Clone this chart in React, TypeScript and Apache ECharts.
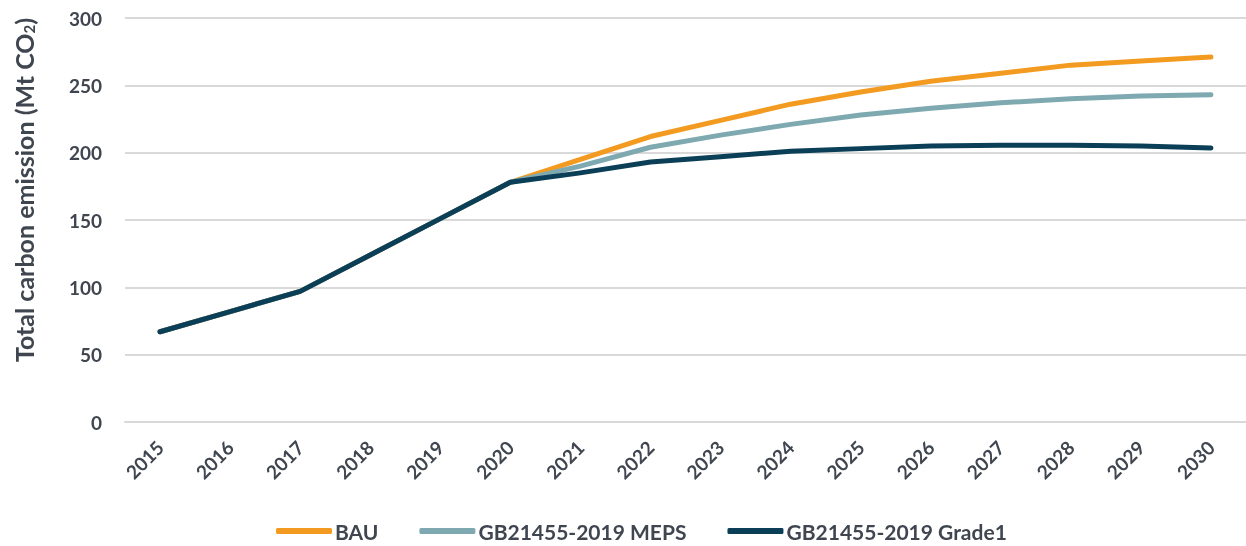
import React, { useEffect, useRef } from "react";
import * as echarts from "echarts";

const years = ["2015","2016","2017","2018","2019","2020","2021","2022","2023","2024","2025","2026","2027","2028","2029","2030"];
const bau = [67, 82, 97, 124, 151, 178, 195, 212, 224, 236, 245, 253, 259, 265, 268, 271];
const meps = [67, 82, 97, 124, 151, 178, 190, 204, 213, 221, 228, 233, 237, 240, 242, 243];
const grade1 = [67, 82, 97, 124, 151, 178, 185, 193, 197, 201, 203, 205, 205.5, 205.5, 205, 203.5];
const seriesNames = ["BAU", "GB21455-2019 MEPS", "GB21455-2019 Grade1"];
const colors = ["#F39A21", "#7FA9B1", "#0B3F57"];

const FONT = "Lato";
const TXT = "#3F4650";

export default function App() {
  const ref = useRef<HTMLDivElement>(null);
  useEffect(() => {
    const chart = echarts.init(ref.current!, null, { renderer: "svg" });
    const data = [bau, meps, grade1];
    chart.setOption({
      animation: false,
      grid: { left: 125, top: 18, width: 1128, height: 404 },
      legend: {
        left: 276,
        top: 519,
        padding: 0,
        itemWidth: 56,
        itemHeight: 6,
        itemGap: 41,
        icon: "roundRect",
        textStyle: { fontFamily: FONT, fontWeight: "bold", fontSize: 21, lineHeight: 24, color: TXT, padding: [0, 0, 0, -2] },
        data: seriesNames,
      },
      xAxis: {
        type: "category",
        data: years,
        boundaryGap: true,
        axisLine: { show: true, lineStyle: { color: "#D9D9D9", width: 2 } },
        axisTick: { show: false },
        axisLabel: { rotate: 45, margin: 22, fontFamily: FONT, fontWeight: "bold", fontSize: 19, color: TXT, interval: 0 },
      },
      yAxis: {
        type: "value",
        min: 0,
        max: 300,
        interval: 50,
        axisLine: { show: false },
        axisTick: { show: false },
        splitLine: { lineStyle: { color: "#D9D9D9", width: 2 } },
        axisLabel: { margin: 23, fontFamily: FONT, fontWeight: "bold", fontSize: 19, color: TXT },
      },
      graphic: [
        {
          type: "text",
          x: 9,
          y: 190,
          rotation: Math.PI / 2,
          style: {
            text: "{a|Total carbon emission (Mt CO}{b|2}{a|)}",
            align: "center",
            verticalAlign: "top",
            rich: {
              a: { fontFamily: FONT, fontWeight: "bold", fontSize: 25, lineHeight: 30, fill: TXT },
              b: { fontFamily: FONT, fontWeight: "bold", fontSize: 15, lineHeight: 30, fill: TXT, padding: [10, 0, 0, 0] },
            },
          },
        },
      ],
      series: seriesNames.map((n, i) => ({
        name: n,
        type: "line",
        data: data[i],
        symbol: "none",
        z: i + 2,
        lineStyle: { color: colors[i], width: 5, cap: "round", join: "round" },
        itemStyle: { color: colors[i] },
      })),
    });
    return () => chart.dispose();
  }, []);
  return <div ref={ref} style={{ position: "fixed", left: 0, top: 0, width: 1246, height: 546 }} />;
}
